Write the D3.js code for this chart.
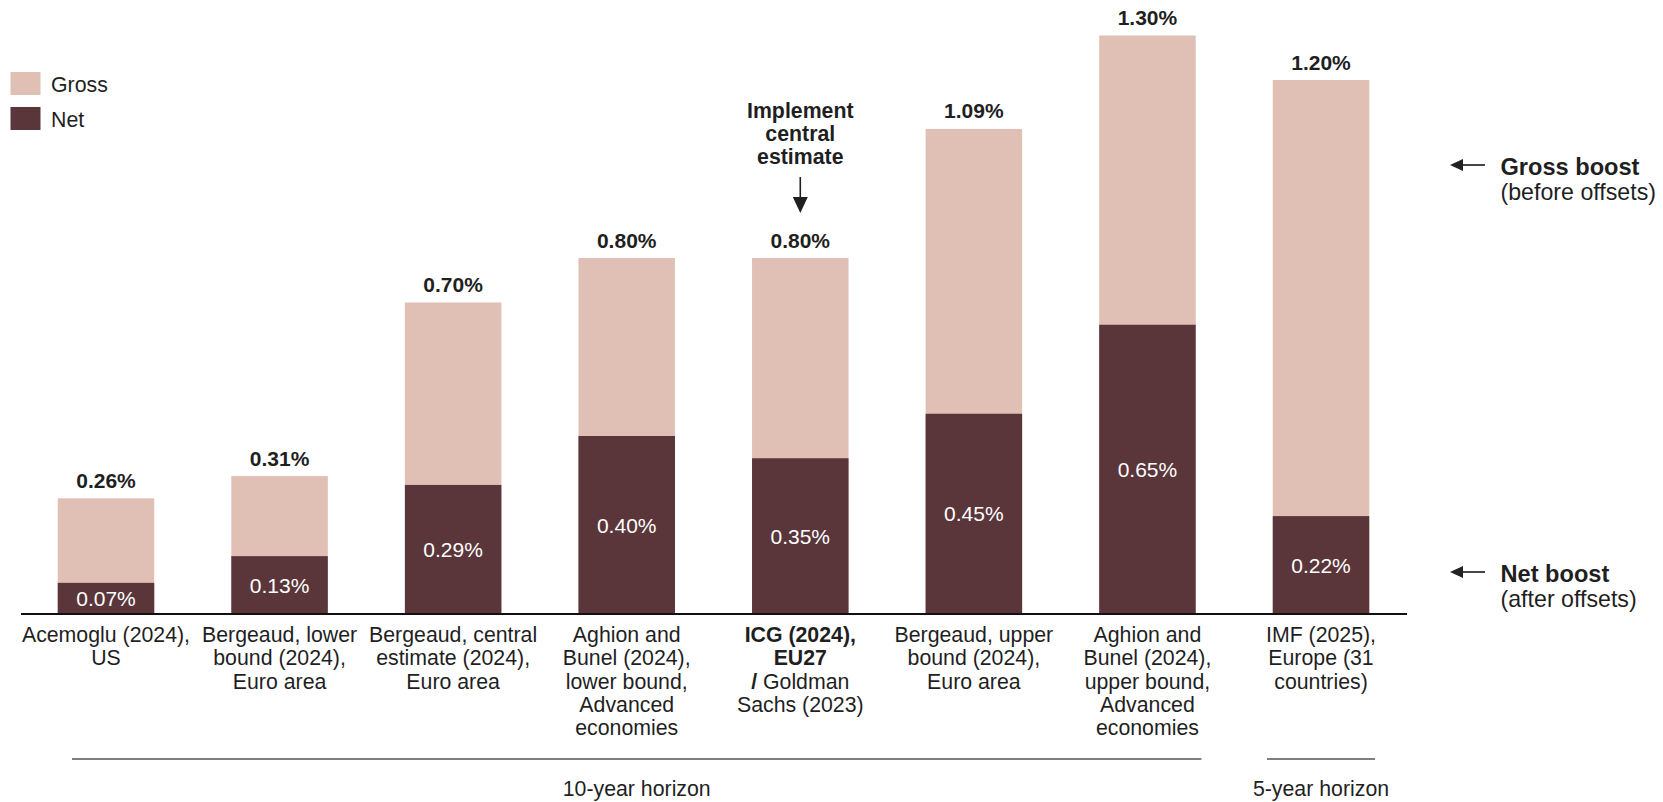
<!DOCTYPE html>
<html>
<head>
<meta charset="utf-8">
<script src="https://cdn.jsdelivr.net/npm/d3@7"></script>
<style>
  html, body { margin: 0; padding: 0; background: #ffffff; }
  svg { display: block; font-family: "Liberation Sans", Arial, Helvetica, sans-serif; }
</style>
</head>
<body>
<svg id="chart" width="1663" height="802"></svg>
<script>
// Studies compared
const categories = ["acemoglu", "bergeaudLow", "bergeaudCentral", "aghionLow", "icg", "bergeaudHigh", "aghionHigh", "imf"];

// Annual productivity boost, % (gross = before offsets, net = after offsets)
const grossValues = [0.26, 0.31, 0.70, 0.80, 0.80, 1.09, 1.30, 1.20];
const netValues   = [0.07, 0.13, 0.29, 0.40, 0.35, 0.45, 0.65, 0.22];

// Category labels, one entry per line; segments flagged bold where emphasised
const categoryLabels = [
  ["Acemoglu (2024),", "US"],
  ["Bergeaud, lower", "bound (2024),", "Euro area"],
  ["Bergeaud, central", "estimate (2024),", "Euro area"],
  ["Aghion and", "Bunel (2024),", "lower bound,", "Advanced", "economies"],
  [[["ICG (2024),", true]], [["EU27", true]], [["/", true], [" Goldman", false]], "Sachs (2023)"],
  ["Bergeaud, upper", "bound (2024),", "Euro area"],
  ["Aghion and", "Bunel (2024),", "upper bound,", "Advanced", "economies"],
  ["IMF (2025),", "Europe (31", "countries)"]
];

const seriesNames = ["Gross", "Net"];
const horizonGroups = [
  { label: "10-year horizon", from: 0, to: 6 },
  { label: "5-year horizon", from: 7, to: 7 }
];
const highlightNote = ["Implement", "central", "estimate"];
const highlightIndex = 4;

const colors = { Gross: "#e0c0b4", Net: "#5a363b" };
const textDark = "#1f1f1f";

const svg = d3.select("#chart");

const x = d3.scaleBand()
  .domain(categories)
  .range([19.2, 1407.8])
  .paddingInner(0.444)
  .paddingOuter(0.222);

const y = d3.scaleLinear()
  .domain([0, 614 / 445])
  .range([614, 0]);

const fmt = v => d3.format(".2f")(v) + "%";

const rows = categories.map((c, i) => ({ key: c, gross: grossValues[i], net: netValues[i], i }));

// Gross bars (full height), net bars drawn on top from the baseline
const bars = svg.append("g");
bars.selectAll("rect.gross").data(rows).join("rect")
  .attr("class", "gross")
  .attr("x", d => x(d.key))
  .attr("width", x.bandwidth())
  .attr("y", d => y(d.gross))
  .attr("height", d => y(0) - y(d.gross))
  .attr("fill", colors.Gross);

bars.selectAll("rect.net").data(rows).join("rect")
  .attr("class", "net")
  .attr("x", d => x(d.key))
  .attr("width", x.bandwidth())
  .attr("y", d => y(d.net))
  .attr("height", d => y(0) - y(d.net))
  .attr("fill", colors.Net);

// Value labels
svg.append("g").selectAll("text").data(rows).join("text")
  .attr("x", d => x(d.key) + x.bandwidth() / 2)
  .attr("y", d => y(d.gross) - 10.5)
  .attr("text-anchor", "middle")
  .attr("font-size", 21)
  .attr("font-weight", "bold")
  .attr("fill", textDark)
  .text(d => fmt(d.gross));

svg.append("g").selectAll("text").data(rows).join("text")
  .attr("x", d => x(d.key) + x.bandwidth() / 2)
  .attr("y", d => (y(d.net) + y(0)) / 2)
  .attr("dy", "0.36em")
  .attr("text-anchor", "middle")
  .attr("font-size", 21)
  .attr("fill", "#ffffff")
  .text(d => fmt(d.net));

// Baseline axis
const axis = d3.axisBottom(x).tickSize(0).tickSizeOuter(0).tickFormat("");
const axisG = svg.append("g")
  .attr("transform", `translate(0,${y(0)})`)
  .call(axis);
axisG.select(".domain")
  .attr("d", "M21,0H1407")
  .attr("stroke", "#111")
  .attr("stroke-width", 2);

// Category labels
const labelG = svg.append("g")
  .attr("font-size", 21.3)
  .attr("fill", textDark)
  .attr("text-anchor", "middle");
categoryLabels.forEach((lines, i) => {
  const cx = x(categories[i]) + x.bandwidth() / 2;
  const t = labelG.append("text").attr("x", cx).attr("y", 641.7);
  lines.forEach((line, li) => {
    const segs = typeof line === "string" ? [[line, false]] : line;
    segs.forEach((s, si) => {
      const ts = t.append("tspan")
        .attr("font-weight", s[1] ? "bold" : "normal")
        .text(s[0]);
      if (si === 0) ts.attr("x", cx).attr("dy", li === 0 ? 0 : 23.4);
    });
  });
});

// Horizon brackets
const hz = svg.append("g");
horizonGroups.forEach(g => {
  const x0 = x(categories[g.from]) + x.bandwidth() / 2 - (g.from === g.to ? 54 : 34);
  const x1 = x(categories[g.to]) + x.bandwidth() / 2 + 54;
  hz.append("line")
    .attr("x1", x0).attr("x2", x1)
    .attr("y1", 759).attr("y2", 759)
    .attr("stroke", "#555").attr("stroke-width", 1.6);
  hz.append("text")
    .attr("x", (x0 + x1) / 2)
    .attr("y", 796)
    .attr("text-anchor", "middle")
    .attr("font-size", 21.3)
    .attr("fill", textDark)
    .text(g.label);
});

// Legend
const legend = svg.append("g");
seriesNames.forEach((name, i) => {
  legend.append("rect")
    .attr("x", 10.5).attr("y", 72 + i * 35)
    .attr("width", 30).attr("height", 23)
    .attr("fill", colors[name]);
  legend.append("text")
    .attr("x", 51).attr("y", 91.5 + i * 35)
    .attr("font-size", 21.3)
    .attr("fill", textDark)
    .text(name);
});

// Central-estimate callout
const hx = x(categories[highlightIndex]) + x.bandwidth() / 2;
const note = svg.append("text")
  .attr("x", hx).attr("y", 117.7)
  .attr("text-anchor", "middle")
  .attr("font-size", 21.3)
  .attr("font-weight", "bold")
  .attr("fill", textDark);
highlightNote.forEach((l, i) => note.append("tspan").attr("x", hx).attr("dy", i ? 23.3 : 0).text(l));
svg.append("line")
  .attr("x1", hx).attr("x2", hx)
  .attr("y1", 177).attr("y2", 200)
  .attr("stroke", textDark).attr("stroke-width", 1.6);
svg.append("path")
  .attr("d", `M${hx - 7.5},197L${hx + 7.5},197L${hx},213Z`)
  .attr("fill", textDark);

// Right-hand annotations
const sideNotes = [
  { arrowY: 165, title: "Gross boost", sub: "(before offsets)" },
  { arrowY: 572, title: "Net boost", sub: "(after offsets)" }
];
const side = svg.append("g").attr("fill", textDark);
sideNotes.forEach(n => {
  side.append("line")
    .attr("x1", 1460).attr("x2", 1485)
    .attr("y1", n.arrowY).attr("y2", n.arrowY)
    .attr("stroke", "#333").attr("stroke-width", 1.8);
  side.append("path")
    .attr("d", `M1450,${n.arrowY}L1463,${n.arrowY - 6}L1463,${n.arrowY + 6}Z`)
    .attr("fill", "#222");
  side.append("text")
    .attr("x", 1500.5).attr("y", n.arrowY + 10)
    .attr("font-size", 23.6).attr("font-weight", "bold")
    .text(n.title);
  side.append("text")
    .attr("x", 1500.5).attr("y", n.arrowY + 35)
    .attr("font-size", 23.2)
    .text(n.sub);
});
</script>
</body>
</html>
